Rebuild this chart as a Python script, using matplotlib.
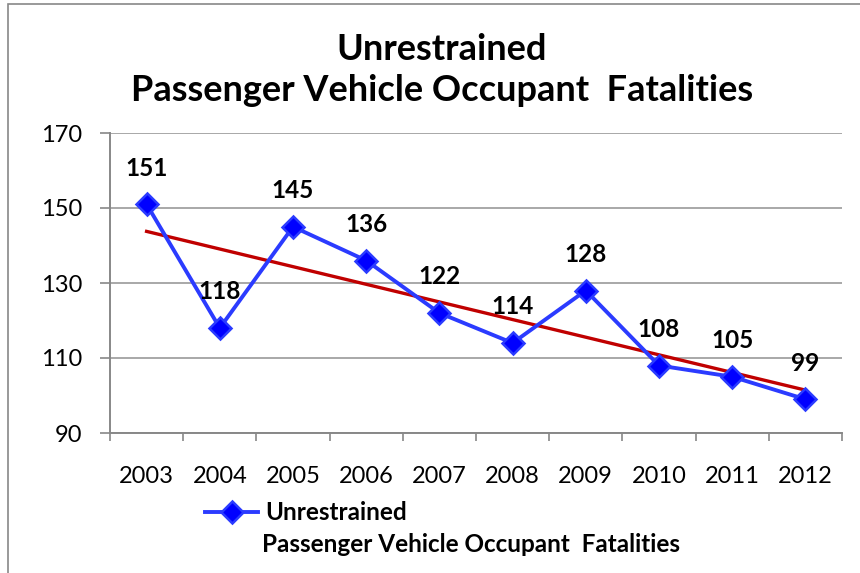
import numpy as np
import matplotlib.pyplot as plt
from matplotlib.patches import Rectangle
from matplotlib.lines import Line2D

# datos
anios = ["2003", "2004", "2005", "2006", "2007", "2008", "2009", "2010", "2011", "2012"]
muertes = [151, 118, 145, 136, 122, 114, 128, 108, 105, 99]
titulo = "Unrestrained\nPassenger Vehicle Occupant  Fatalities"

plt.rcParams["font.family"] = ["Lato", "DejaVu Sans"]

fig = plt.figure(figsize=(8.6, 5.73), dpi=100)
ax = fig.add_axes([110 / 860, 1 - 433 / 573, 732 / 860, 300 / 573])

x = np.arange(len(anios))

# linea de tendencia (ajuste lineal)
m, b = np.polyfit(x, muertes, 1)
ax.plot(x, m * x + b, color="#C00000", linewidth=2.4, zorder=2)

ax.plot(x, muertes, color="#2B3BFF", linewidth=2.8, marker="D",
        markersize=11, markerfacecolor="#0000FF", markeredgecolor="#2B3BFF",
        markeredgewidth=1.8, zorder=3)

for xi, v in zip(x, muertes):
    ax.annotate(str(v), (xi, v), xytext=(0, 26), textcoords="offset points",
                ha="center", va="center", fontsize=17.5, fontweight="bold")

ax.set_xlim(-0.5, len(anios) - 0.5)
ax.set_ylim(90, 170)
ax.set_yticks(np.arange(90, 171, 20))
ax.set_xticks(x)
ax.set_xticklabels(anios)
ax.set_xticks(np.arange(-0.5, len(anios), 1), minor=True)
ax.tick_params(axis="x", which="major", length=0, pad=24, labelsize=17)
ax.tick_params(axis="x", which="minor", length=6, color="#888888", width=1.2)
ax.tick_params(axis="y", length=7, color="#888888", width=1.2, labelsize=17, pad=13)

ax.yaxis.grid(True, color="#999999", linewidth=1.2)
ax.set_axisbelow(True)
for s in ["top", "right"]:
    ax.spines[s].set_visible(False)
for s in ["left", "bottom"]:
    ax.spines[s].set_color("#888888")
    ax.spines[s].set_linewidth(1.4)

fig.text(442 / 860, 1 - 70 / 573, titulo, ha="center", va="center",
         fontsize=26, fontweight="bold", linespacing=1.3)

# leyenda: marcador alineado con la primera linea del texto
lineas = titulo.split("\n")
muestra = Line2D([], [], color="#2B3BFF", linewidth=2.8, marker="D", markersize=11,
                 markerfacecolor="#0000FF", markeredgecolor="#2B3BFF", markeredgewidth=1.8)
fig.legend([muestra], [lineas[0]], loc="center left",
           bbox_to_anchor=(183 / 860, 1 - 513 / 573), frameon=False,
           handlelength=2.2, handletextpad=0.3, prop={"weight": "bold", "size": 17.5})
fig.text(262 / 860, 1 - 544 / 573, lineas[1], ha="left", va="center",
         fontsize=17.5, fontweight="bold")

# marco exterior
fig.patches.append(Rectangle((8 / 860, -0.01), 1, 1 - 4 / 573 + 0.01, transform=fig.transFigure,
                             fill=False, edgecolor="#888888", linewidth=1.2))

fig.savefig("out.png", dpi=100)
